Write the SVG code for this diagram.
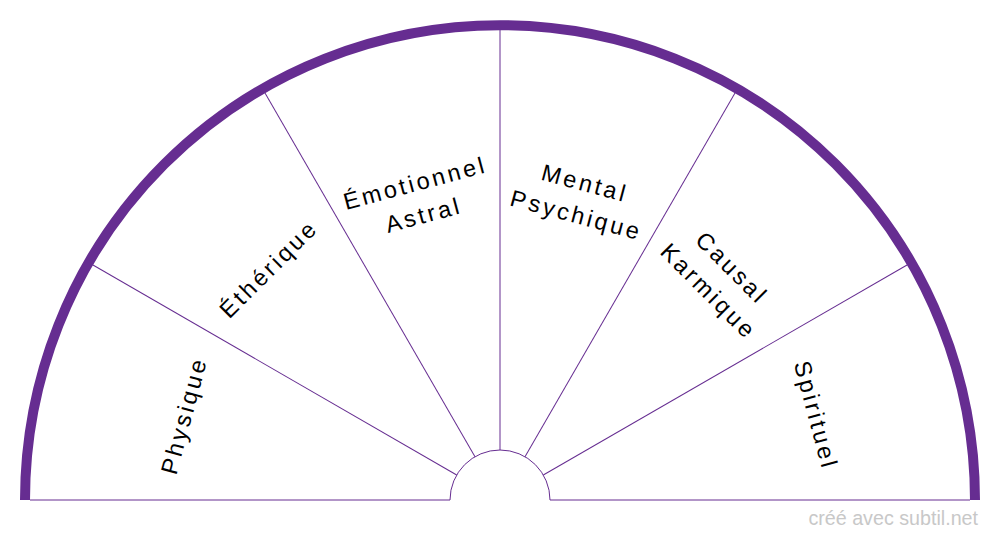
<svg xmlns="http://www.w3.org/2000/svg" width="1000" height="540" viewBox="0 0 1000 540">
  <style>
    .spoke { stroke: #662d91; stroke-width: 1; fill: none; }
    .outer { stroke: #662d91; stroke-width: 10; fill: none; }
    .label { font-family: "Liberation Sans", Arial, sans-serif; font-size: 23.5px; letter-spacing: 3px; fill: #000; text-anchor: middle; }
    .credit { font-family: "Liberation Sans", Arial, sans-serif; font-size: 19.7px; fill: #c8c8c8; text-anchor: end; }
  </style>
  <rect width="1000" height="540" fill="#fff"/>
  <g id="connectors">
    <path class="spoke" d="M30 500 H450 A50 50 0 0 1 550 500 H970"/>
    <g transform="translate(500,500)">
      <line class="spoke" x1="-50" y1="0" x2="-470" y2="0" transform="rotate(30)"/>
      <line class="spoke" x1="-50" y1="0" x2="-470" y2="0" transform="rotate(60)"/>
      <line class="spoke" x1="-50" y1="0" x2="-470" y2="0" transform="rotate(90)"/>
      <line class="spoke" x1="-50" y1="0" x2="-470" y2="0" transform="rotate(120)"/>
      <line class="spoke" x1="-50" y1="0" x2="-470" y2="0" transform="rotate(150)"/>
    </g>
    <path class="outer" d="M25 500 A475 475 0 0 1 975 500"/>
  </g>
  <g id="physique" transform="translate(500,500) rotate(-75)">
    <text class="label" x="0" y="-319">Physique</text>
  </g>
  <g id="etherique" transform="translate(500,500) rotate(-45)">
    <text class="label" x="0" y="-319">Éthérique</text>
  </g>
  <g id="emotionnel" transform="translate(500,500) rotate(-15)">
    <text class="label" x="0" y="-320">Émotionnel</text>
    <text class="label" x="0" y="-287">Astral</text>
  </g>
  <g id="mental" transform="translate(500,500) rotate(15)">
    <text class="label" x="0" y="-320">Mental</text>
    <text class="label" x="0" y="-287">Psychique</text>
  </g>
  <g id="causal" transform="translate(500,500) rotate(45)">
    <text class="label" x="0" y="-320">Causal</text>
    <text class="label" x="0" y="-287">Karmique</text>
  </g>
  <g id="spirituel" transform="translate(500,500) rotate(75)">
    <text class="label" x="0" y="-319">Spirituel</text>
  </g>
  <text class="credit" x="978" y="525">créé avec subtil.net</text>
</svg>
